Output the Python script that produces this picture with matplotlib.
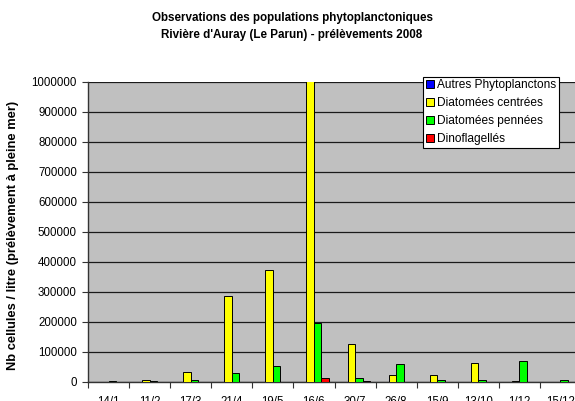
import matplotlib
matplotlib.use("Agg")
import matplotlib.pyplot as plt
import numpy as np

categories = ["14/1", "11/2", "17/3", "21/4", "19/5", "16/6", "30/7", "26/8", "15/9", "13/10", "1/12", "15/12"]
autres = [300, 200, 300, 200, 300, 400, 300, 200, 200, 300, 300, 500]
centrees = [1500, 8000, 33000, 286000, 375000, 1100000, 128000, 24000, 23000, 64000, 2000, 1500]
pennees = [3000, 5000, 6000, 30000, 54000, 198000, 13000, 60000, 7000, 8000, 69000, 7000]
dinos = [500, 500, 500, 500, 1500, 12000, 5000, 500, 500, 500, 500, 500]

series_names = ["Autres Phytoplanctons", "Diatomées centrées", "Diatomées pennées", "Dinoflagellés"]
series_vals = [autres, centrees, pennees, dinos]
colors = ["#0000FF", "#FFFF00", "#00FF00", "#FF0000"]

plt.rcParams['font.family'] = ['Liberation Sans', 'DejaVu Sans']

fig = plt.figure(figsize=(5.75, 4.01), dpi=100)
ax = fig.add_axes([88/575, 19/401, 493/575, 300/401])
ax.set_facecolor("#C0C0C0")

x = np.arange(len(categories))
w = 0.183
for k, (name, vals, c) in enumerate(zip(series_names, series_vals, colors)):
    ax.bar(x + (k - 1.5) * w, vals, width=w, color=c, edgecolor="black", linewidth=0.7,
           label=name, zorder=3)

ax.set_xlim(-0.5, len(categories) - 0.5)
ax.set_ylim(0, 1000000)
ax.set_yticks(np.arange(0, 1000001, 100000))
ax.set_yticklabels([str(v) for v in range(0, 1000001, 100000)], fontsize=8.3)
ax.yaxis.grid(True, color="#1a1a1a", linewidth=0.9, zorder=1)
ax.set_axisbelow(True)

# major ticks at boundaries, labels at centers
ax.set_xticks(np.arange(-0.5, len(categories), 1.0))
ax.set_xticklabels([])
ax.set_xticks(x, minor=True)
ax.set_xticklabels(categories, minor=True, fontsize=8.3)
ax.tick_params(axis='x', which='major', length=4, direction='out', color="#333333")
ax.tick_params(axis='x', which='minor', length=0, pad=10.3)
ax.tick_params(axis='y', length=4, direction='out', color="#333333", pad=4)

for s in ["top", "right"]:
    ax.spines[s].set_visible(False)
for s in ["left", "bottom"]:
    ax.spines[s].set_color("#333333")
    ax.spines[s].set_linewidth(1.0)

ax.set_ylabel("Nb cellules / litre (prélèvement à pleine mer)", fontsize=9.3, fontweight="bold")
ax.yaxis.set_label_coords((19 - 88) / 493, 0.49)

fig.text(292/575, 1 - 18/401, "Observations des populations phytoplanctoniques", ha="center", va="center",
         fontsize=8.4, fontweight="bold")
fig.text(292/575, 1 - 35/401, "Rivière d'Auray (Le Parun) - prélèvements 2008", ha="center", va="center",
         fontsize=8.4, fontweight="bold")

leg = ax.legend(loc="upper left", bbox_to_anchor=((423 - 88) / 493, (382 - 76.5) / 300),
                fontsize=8.6, frameon=True, fancybox=False, borderpad=0.25, labelspacing=0.5,
                handlelength=0.65, handleheight=0.65, handletextpad=0.25, borderaxespad=0)
leg.get_frame().set_edgecolor("black")
leg.get_frame().set_linewidth(0.8)
leg.get_frame().set_facecolor("white")
leg.get_frame().set_alpha(1)
leg.set_zorder(5)

fig.savefig("out.png", dpi=100)
